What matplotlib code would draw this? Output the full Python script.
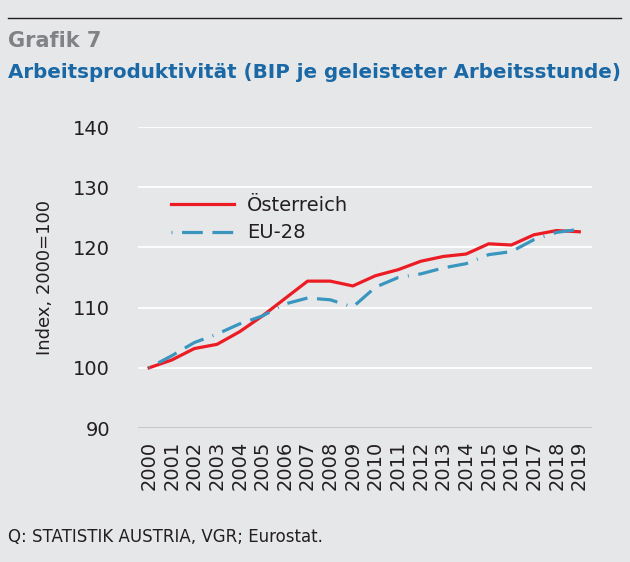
import numpy as np
import matplotlib.pyplot as plt
from matplotlib import font_manager

# Daten (Index, 2000=100)
jahre = [str(j) for j in range(2000, 2020)]
oesterreich = [100.0, 101.3, 103.2, 103.9, 106.0, 108.6, 111.5, 114.4, 114.4, 113.6,
               115.3, 116.3, 117.7, 118.5, 118.9, 120.6, 120.4, 122.1, 122.8, 122.6]
eu28 = [100.0, 102.0, 104.2, 105.6, 107.3, 108.6, 110.6, 111.6, 111.3, 110.1,
        113.4, 115.0, 115.6, 116.6, 117.3, 118.8, 119.3, 121.3, 122.5, 123.0]
y_ticks = [90, 100, 110, 120, 130, 140]

hintergrund = '#e6e7e8'
rot = '#ec1c24'
blau = '#3a96bf'

namen = {f.name for f in font_manager.fontManager.ttflist}
titel_font = 'Liberation Sans Narrow' if 'Liberation Sans Narrow' in namen else 'DejaVu Sans'

fig = plt.figure(figsize=(6.3, 5.62), dpi=100, facecolor=hintergrund)
ax = fig.add_axes([0.219, 0.2384, 0.721, 0.5356])
ax.set_facecolor(hintergrund)

x = np.arange(len(jahre))
ax.plot(x, oesterreich, color=rot, lw=2.3, label='Österreich', zorder=3)
ax.plot(x, eu28, color=blau, lw=2.3, dashes=(0.3, 3, 6.5, 3, 6.5, 3), label='EU-28', zorder=3)

ax.set_xlim(-0.49, 19.57)
ax.set_ylim(90, 140)
ax.set_yticks(y_ticks)
ax.set_xticks(x)
ax.set_xticklabels(jahre, rotation=90)

for v in y_ticks[1:]:
    ax.axhline(v, color='white', lw=1.3, zorder=1)
ax.axhline(90, color='#c4c5c7', lw=2, zorder=1)

for s in ax.spines.values():
    s.set_visible(False)
ax.tick_params(axis='both', length=0, labelsize=14, colors='#231f20')
ax.tick_params(axis='y', pad=20)
ax.tick_params(axis='x', pad=9)
ax.set_ylabel('Index, 2000=100', fontsize=13, color='#231f20', labelpad=14)

ax.legend(loc='upper left', bbox_to_anchor=(0.035, 0.83), frameon=False, fontsize=14,
          handlelength=3.2, handletextpad=0.7, labelspacing=0.45, labelcolor='#231f20')

# Kopfbereich
fig.add_artist(plt.Line2D([8/630, 621/630], [1 - 18/562, 1 - 18/562], color='#231f20', lw=1))
fig.text(8/630, 1 - 41/562, 'Grafik 7', fontsize=15, fontweight='bold', color='#808285',
         family=titel_font, va='center', ha='left')
titel = fig.text(8/630, 1 - 73/562, 'Arbeitsproduktivität (BIP je geleisteter Arbeitsstunde)',
                 fontsize=17, fontweight='bold', color='#1a69a6', family=titel_font,
                 va='center', ha='left')
# Titel auf die Breite der Vorlage (ca. 614 px) bringen
renderer = fig.canvas.get_renderer()
breite = titel.get_window_extent(renderer).width
titel.set_fontsize(17 * 614 / breite)

fig.text(8/630, 1 - 537/562, 'Q: STATISTIK AUSTRIA, VGR; Eurostat.', fontsize=12,
         color='#231f20', va='center', ha='left')

fig.savefig('out.png', dpi=100, facecolor=hintergrund)
